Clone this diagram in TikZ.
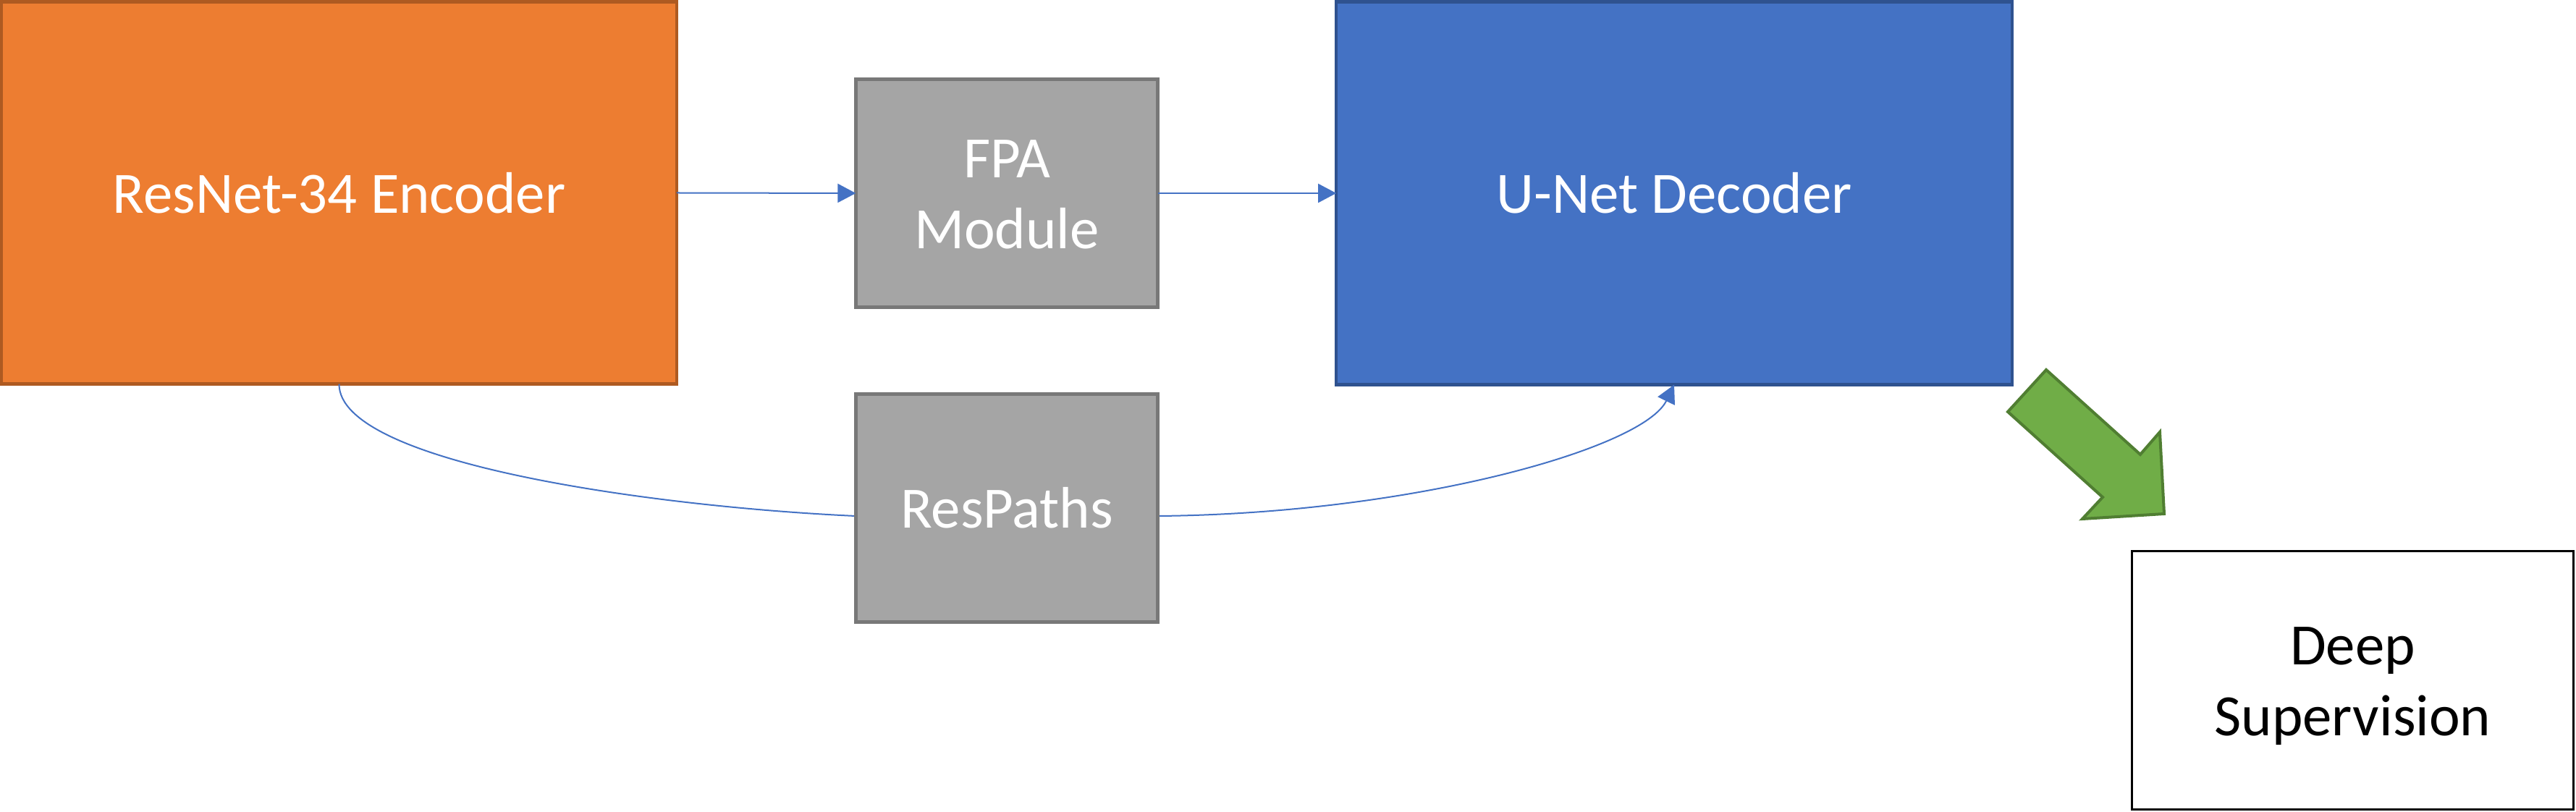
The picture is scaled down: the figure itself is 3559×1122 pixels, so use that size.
\documentclass[tikz,border=0pt]{standalone}
\usepackage{fontspec}
\setmainfont{Carlito}
\usetikzlibrary{arrows.meta}
\definecolor{encfill}{HTML}{ED7D31}
\definecolor{encdraw}{HTML}{AE5A21}
\definecolor{grayfill}{HTML}{A5A5A5}
\definecolor{graydraw}{HTML}{787878}
\definecolor{decfill}{HTML}{4472C4}
\definecolor{decdraw}{HTML}{2F528F}
\definecolor{linkblue}{HTML}{4472C4}
\definecolor{arrfill}{HTML}{70AD47}
\definecolor{arrdraw}{HTML}{507E32}
\newcommand{\lnup}{\rule{0pt}{0.772cm}}
\newcommand{\lndn}{\rule[-0.218cm]{0pt}{0.218cm}}
\begin{document}
\begin{tikzpicture}[x=0.01cm,y=-0.01cm,
  box/.style={draw,line width=0.045cm,inner sep=0pt,outer sep=0pt,align=center,
    font=\fontsize{23pt}{27.9pt}\selectfont},
  conn/.style={draw=linkblue,line width=0.02cm,-{Triangle[length=0.25cm,width=0.26cm]}}]
\useasboundingbox (0,0) rectangle (3559,1122);
\node[box,fill=encfill,draw=encdraw,text=white,minimum width=9.32cm,minimum height=5.28cm] (enc) at (468.5,266.5) {\lnup ResNet-34 Encoder\lndn};
\node[box,fill=grayfill,draw=graydraw,text=white,minimum width=4.17cm,minimum height=3.15cm] (fpa) at (1391,267) {\lnup FPA\\Module\lndn};
\node[box,fill=decfill,draw=decdraw,text=white,minimum width=9.33cm,minimum height=5.29cm] (dec) at (2313,267) {\lnup U-Net Decoder\lndn};
\node[box,fill=white,draw=black,line width=0.027cm,text=black,minimum width=6.10cm,minimum height=3.57cm] (ds) at (3250.5,940) {\lnup Deep\\Supervision\lndn};
\coordinate (rpl) at (1182,713);
\coordinate (rpr) at (1600,713);
\draw[conn] (enc.east) -- (fpa.west);
\draw[conn] (fpa.east) -- (dec.west);
\draw[conn] (enc.south) .. controls (468,640) and (900,700) .. (rpl) -- (rpr)
  .. controls (1950,710) and (2270,620) .. (dec.south);
\node[box,fill=grayfill,draw=graydraw,text=white,minimum width=4.17cm,minimum height=3.15cm] (rp) at (1391,702) {\lnup ResPaths\lndn};
\draw[fill=arrfill,draw=arrdraw,line width=0.04cm,line join=miter]
  (2827,511) -- (2957,628) -- (2984,597) -- (2990,710) -- (2877,717) -- (2905,687) -- (2774,569) -- cycle;
\end{tikzpicture}
\end{document}
